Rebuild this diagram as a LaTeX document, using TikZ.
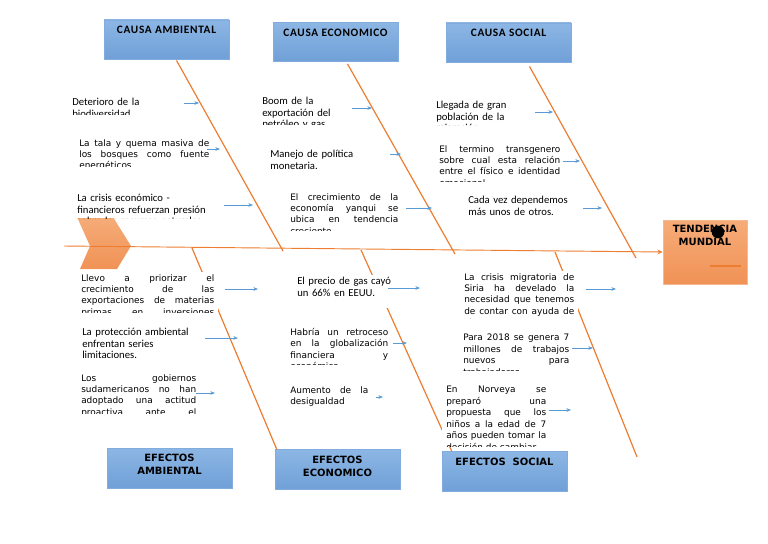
\documentclass[tikz,border=0pt]{standalone}
\usepackage{fontspec}
\setmainfont{Carlito}
\newfontfamily\dejavu{DejaVu Sans}
\newfontfamily\titulofont[LetterSpace=6.0]{Carlito}
\usepackage{xcolor}
\usepackage{tikz}
\usetikzlibrary{arrows.meta,calc}

\definecolor{naranja}{RGB}{237,125,49}
\definecolor{naranjaclaro}{RGB}{246,172,120}
\definecolor{naranjaoscuro}{RGB}{240,146,86}
\definecolor{bordenaranja}{RGB}{245,185,145}
\definecolor{azularriba}{RGB}{140,182,228}
\definecolor{azulabajo}{RGB}{112,160,216}
\definecolor{bordeazul}{RGB}{130,172,222}
\definecolor{azulflecha}{RGB}{91,155,213}

% caja de texto blanca, recortada abajo
\newcommand{\cuadro}[7][txtj]{%
  \fill[white] (#3-4,#4-2) rectangle (#3+#5+4,#4+#6);
  \begin{scope}
    \clip (#3-4,#4-2) rectangle (#3+#5+4,#4+#6);
    \pgfmathsetmacro\anchot{#5*0.75}
    \node[#1,text width=\anchot pt,anchor=north west] (#2) at (#3,#4) {#7};
  \end{scope}}

\begin{document}
\begin{tikzpicture}[x=0.75pt,y=-0.75pt,
  caja/.style={draw=bordeazul,line width=0.4pt,top color=azularriba,bottom color=azulabajo,
    minimum width=93.75pt,minimum height=29.5pt,inner sep=0pt},
  cabeza/.style={draw=bordenaranja,line width=0.4pt,top color=naranjaclaro,bottom color=naranjaoscuro},
  titulo/.style={anchor=north,inner sep=0pt,yshift=-4.7pt,align=center,
    font=\titulofont\bfseries\fontsize{8.5}{10}\selectfont},
  titulob/.style={anchor=north,inner sep=0pt,yshift=-4.7pt,align=center,
    font=\dejavu\bfseries\fontsize{7.5}{9.75}\selectfont},
  txtc/.style={inner sep=0pt,align=left,font=\fontsize{8}{8.6}\selectfont},
  txtj/.style={inner sep=0pt,align=justify,font=\dejavu\fontsize{6.7}{8.6}\selectfont},
  espina/.style={naranja,line width=0.9pt},
  flecha/.style={azulflecha,line width=0.6pt,-{Stealth[length=3.5pt,width=2.8pt]}},
  punto/.style={circle,fill=black,inner sep=0pt,minimum size=9.5pt}]
 \useasboundingbox (0,0) rectangle (768,543);

 % cajas de causas y efectos
 \node[caja,label={[titulo]north:CAUSA AMBIENTAL}] (ca) at (166.5,39.5) {};
 \node[caja,label={[titulo]north:CAUSA ECONOMICO}] (ce) at (335.5,42) {};
 \node[caja,label={[titulo]north:CAUSA SOCIAL}] (cs) at (508.5,42.5) {};
 \node[caja,minimum height=30pt,label={[titulob]north:EFECTOS\\AMBIENTAL}] (ea) at (169.5,468) {};
 \node[caja,minimum height=30pt,label={[titulob]north:EFECTOS\\ECONOMICO}] (ee) at (337.5,469.5) {};
 \node[caja,minimum height=30pt,label={[titulob]north:EFECTOS~~SOCIAL}] (es) at (504.5,471.5) {};

 % cabeza y cola del pescado
 \node[cabeza,minimum width=63pt,minimum height=48pt,label={[titulob,yshift=1.2pt]north:TENDENCIA\\MUNDIAL}] (tm) at (705,252) {};
 \node[punto] (pt) at (718,232) {};
 \draw[espina,line width=1.6pt] ($(tm.center)+(5,14)$) -- ($(tm.center)+(36,14)$);
 \path[cabeza,draw=none] (77,217) -- (113,217) -- (131,246) -- (117,269) -- (80,269) -- (90,246) -- cycle;

 % espina central y espinas
 \coordinate (cola) at (64,246);
 \draw[espina,line width=0.7pt,-{Stealth[length=4pt,width=3.5pt]}] (cola) -- (tm.west);
 \coordinate (a1) at ($(ca.south)+(10,1)$);
 \coordinate (a2) at ($(ce.south)+(12,2)$);
 \coordinate (a3) at ($(cs.south)+(21,4)$);
 \coordinate (s1) at (283,251);
 \coordinate (s2) at (455,254);
 \coordinate (s3) at (636,258);
 \coordinate (i1) at (192,248);
 \coordinate (i2) at (361,250);
 \coordinate (i3) at (555,252);
 \coordinate (e1) at ($(ee.north west)+(2,0)$);
 \coordinate (e2) at ($(es.north west)+(10,0)$);
 \coordinate (e3) at (637,457);
 \foreach \a/\b in {a1/s1,a2/s2,a3/s3,i1/e1,i2/e2,i3/e3} \draw[espina] (\a)--(\b);

 % textos de causas
 \cuadro[txtc]{t1}{72}{98}{80}{16}{Deterioro de la\\biodiversidad}
 \cuadro{t2}{79}{139}{130}{27}{La tala y quema masiva de\linebreak los bosques como fuente\linebreak energéticos}
 \cuadro[txtc]{t3}{77}{194}{140}{24}{La crisis económico -\\financieros refuerzan presión\\sobre los recursos naturales}
 \cuadro[txtc]{t4}{262}{97}{85}{27}{Boom de la\\exportación del\\petróleo y gas}
 \cuadro[txtc]{t5}{270}{150}{90}{25}{Manejo de política\\monetaria.}
 \cuadro{t6}{290}{193}{108}{37}{El crecimiento de la\linebreak economía yanqui se\linebreak ubica en tendencia\linebreak creciente}
 \cuadro[txtc]{t7}{436}{101}{90}{24}{Llegada de gran\\población de la\\migración}
 \cuadro{t8}{439}{145}{121}{36}{El termino transgenero\linebreak sobre cual esta relación\linebreak entre el físico e identidad\linebreak emocional}
 \cuadro[txtc]{t9}{468}{196}{100}{24}{Cada vez dependemos\\más unos de otros.}

 % textos de efectos
 \cuadro{b1}{81}{274}{133}{38}{Llevo a priorizar el\linebreak crecimiento de las\linebreak exportaciones de materias\linebreak primas en inversiones\linebreak extranjeras}
 \cuadro[txtc]{b2}{82}{328}{115}{34}{La protección ambiental\\enfrentan series\\limitaciones.}
 \cuadro{b3}{81}{374}{115}{39}{Los gobiernos\linebreak sudamericanos no han\linebreak adoptado una actitud\linebreak proactiva ante el\linebreak problema}
 \cuadro[txtc]{b4}{297}{277}{94}{31}{El precio de gas cayó\\un 66\% en EEUU.}
 \cuadro{b5}{290}{328}{98}{36}{Habría un retroceso\linebreak en la globalización\linebreak financiera y\linebreak económica}
 \cuadro{b6}{290}{386}{78}{24}{Aumento de la\linebreak desigualdad}
 \cuadro{b7}{464}{273}{110}{45}{La crisis migratoria de\linebreak Siria ha develado la\linebreak necesidad que tenemos\linebreak de contar con ayuda de\linebreak otros}
 \cuadro{b8}{463}{334}{106}{36}{Para 2018 se genera 7\linebreak millones de trabajos\linebreak nuevos para\linebreak trabajadores}
 \cuadro{b9}{446}{386}{100}{60}{En Norveya se\linebreak preparó una\linebreak propuesta que los\linebreak niños a la edad de 7\linebreak años pueden tomar la\linebreak decisión de cambiar}

 % flechitas azules
 \foreach \n/\xa/\ya/\xb in {1/184/103/199,2/207/149/220,3/224/205/253,4/352/108/372,
   5/390/154/401,6/406/208/432,7/535/112/553,8/563/161/580,9/583/208/602,
   10/225/289/258,11/205/338/238,12/196/393/215,13/388/288/420,14/393/343/407,
   15/376/397/383,16/586/289/616,17/572/348/593,18/549/410/571} {
   \coordinate (fa\n) at (\xa,\ya);
   \coordinate (fb\n) at (\xb,\ya);
   \draw[flecha] (fa\n) -- (fb\n);
 }
\end{tikzpicture}
\end{document}
